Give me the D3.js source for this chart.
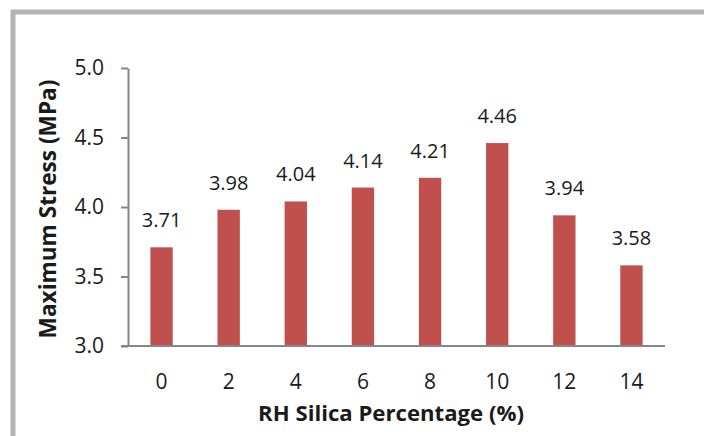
<!DOCTYPE html>
<html>
<head>
<meta charset="utf-8">
<script src="https://cdn.jsdelivr.net/npm/d3@7"></script>
<style>
  html, body { margin: 0; padding: 0; background: #fff; }
  svg { display: block; font-family: "Open Sans", Lato, sans-serif; }
</style>
</head>
<body>
<svg id="chart" width="704" height="436"></svg>
<script>
// Silica content (%) and measured maximum stress (MPa)
const categories = ["0", "2", "4", "6", "8", "10", "12", "14"];
const stressValues = [3.71, 3.98, 4.04, 4.14, 4.21, 4.46, 3.94, 3.58];
const yTicks = [3.0, 3.5, 4.0, 4.5, 5.0];

const svg = d3.select("#chart");
const W = 704, H = 436;
const margin = { left: 128, right: 39, top: 68, bottom: 90 };
const ink = "#1a1a1a";
const font = "'Open Sans', Lato, sans-serif";

// outer frame of the chart area
svg.append("path")
  .attr("d", `M13,${H} V12 H${W}`)
  .attr("fill", "none")
  .attr("stroke", "#b4b4b4")
  .attr("stroke-width", 5);

const x = d3.scaleBand()
  .domain(categories)
  .range([margin.left, W - margin.right])
  .paddingInner(0.667)
  .paddingOuter(0.333);

const y = d3.scaleLinear()
  .domain([3.0, 5.0])
  .range([H - margin.bottom, margin.top]);

// bars
svg.append("g").selectAll("rect")
  .data(stressValues)
  .join("rect")
  .attr("x", (d, i) => x(categories[i]))
  .attr("width", x.bandwidth())
  .attr("y", d => y(d))
  .attr("height", d => y(3.0) - y(d))
  .attr("fill", "#c0504d");

// value labels
svg.append("g").selectAll("text")
  .data(stressValues)
  .join("text")
  .attr("x", (d, i) => x(categories[i]) + x.bandwidth() / 2)
  .attr("y", d => y(d) - 20)
  .attr("text-anchor", "middle")
  .attr("font-size", 20)
  .attr("fill", ink)
  .text(d => d.toFixed(2));

// y axis
const yAxis = svg.append("g")
  .attr("transform", `translate(${margin.left},0)`)
  .call(d3.axisLeft(y).tickValues(yTicks).tickFormat(d3.format(".1f")).tickSize(7).tickSizeOuter(0).tickPadding(17));
yAxis.select(".domain").attr("stroke", "#868686").attr("stroke-width", 2);
yAxis.selectAll(".tick line").attr("stroke", "#868686").attr("stroke-width", 2);
yAxis.selectAll(".tick text").attr("font-size", 21).attr("fill", ink).attr("font-family", font);

// x axis
const xAxis = svg.append("g")
  .attr("transform", `translate(0,${y(3.0)})`)
  .call(d3.axisBottom(x).tickSize(0).tickPadding(28));
xAxis.select(".domain").attr("stroke", "#868686").attr("stroke-width", 2)
  .attr("d", `M${margin.left - 7},0H${W - margin.right}`);
xAxis.selectAll(".tick text").attr("font-size", 21).attr("fill", ink).attr("font-family", font);

// axis titles, sized to span their target widths
function fitText(sel, width) {
  const w = sel.node().getComputedTextLength();
  const fs = parseFloat(sel.attr("font-size"));
  sel.attr("font-size", fs * width / w);
}

const xTitle = svg.append("text")
  .attr("x", 391)
  .attr("y", 421)
  .attr("text-anchor", "middle")
  .attr("font-size", 20)
  .attr("font-weight", "bold")
  .attr("fill", ink)
  .text("RH Silica Percentage (%)");
fitText(xTitle, 266);

const yTitle = svg.append("text")
  .attr("transform", `translate(56,209) rotate(-90)`)
  .attr("text-anchor", "middle")
  .attr("font-size", 20)
  .attr("font-weight", "bold")
  .attr("fill", ink)
  .text("Maximum Stress (MPa)");
fitText(yTitle, 259);
</script>
</body>
</html>
